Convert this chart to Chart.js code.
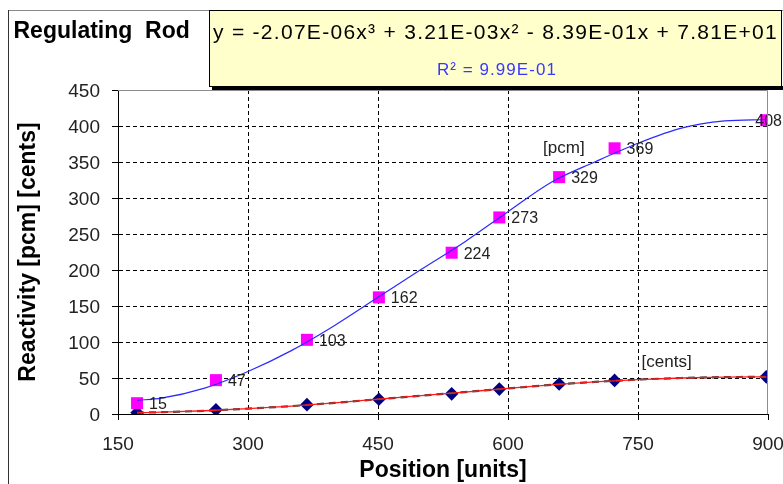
<!DOCTYPE html>
<html><head><meta charset="utf-8">
<script src="https://cdn.jsdelivr.net/npm/chart.js@4/dist/chart.umd.min.js"></script>
<style>html,body{margin:0;padding:0;background:#fff;overflow:hidden}#wrap{width:783px;height:484px;position:relative}</style>
</head><body><div id="wrap"><canvas id="c" width="783" height="484" style="width:783px;height:484px"></canvas></div>
<script>
// ---- data ----
const positions   = [172, 263, 368, 451, 535, 590, 659, 723, 898];
const pcmValues   = [15, 47, 103, 162, 224, 273, 329, 369, 408];
const centsValues = [1.9, 5.9, 13, 20.5, 28, 34.6, 41.6, 46.7, 51.6];
const trendPositions = [172, 200, 250, 300, 350, 400, 450, 500, 550, 600, 650, 700, 750, 800, 850, 898];
const pcmTrend   = [19, 22, 36, 59, 88, 123, 162, 201, 239, 281, 322, 350, 376, 397, 407, 409];
const centsTrend = [1.8, 2.5, 4.5, 7.5, 11, 15.5, 20.5, 25.5, 30.5, 35.5, 40.5, 44.5, 47.8, 50, 51.2, 51.6];
const xTicks = [150, 300, 450, 600, 750, 900];
const yTicks = [0, 50, 100, 150, 200, 250, 300, 350, 400, 450];
const chartTitle = 'Regulating  Rod';
const equationText = 'y = -2.07E-06x\u00B3 + 3.21E-03x\u00B2 - 8.39E-01x + 7.81E+01';
const r2Text = 'R\u00B2 = 9.99E-01';
const xTitle = 'Position [units]';
const yTitle = 'Reactivity [pcm] [cents]';
const seriesNames = ['[pcm]', '[cents]'];

const FONT = "'Liberation Sans', Arial, sans-serif";
const pts = (xs, ys) => xs.map((x, i) => ({x, y: ys[i]}));

function fitText(ctx, text, cx, y, target) {
  ctx.letterSpacing = '0px';
  const w0 = ctx.measureText(text).width;
  if (w0 < target && 'letterSpacing' in ctx) {
    ctx.letterSpacing = ((target - w0) / text.length).toFixed(2) + 'px';
  }
  ctx.fillText(text, cx, y, target + 4);
  ctx.letterSpacing = '0px';
}

const decor = {
  id: 'decor',
  afterDatasetsDraw(chart) {
    const ctx = chart.ctx;
    const pcmMeta = chart.getDatasetMeta(3);
    const centsMeta = chart.getDatasetMeta(4);
    ctx.save();
    ctx.font = '16px ' + FONT;
    ctx.fillStyle = '#222';
    ctx.textBaseline = 'middle';
    ctx.textAlign = 'left';
    pcmMeta.data.forEach((p, i) => {
      const t = String(pcmValues[i]);
      const w = ctx.measureText(t).width;
      const x = Math.min(p.x + 12, 782 - w);
      ctx.fillText(t, x, p.y + 1.5);
    });
    ctx.font = '17px ' + FONT;
    const p8 = pcmMeta.data[7];
    ctx.textAlign = 'right';
    ctx.fillText(seriesNames[0], p8.x - 30, p8.y);
    const c8 = centsMeta.data[7];
    ctx.textAlign = 'left';
    ctx.fillText(seriesNames[1], c8.x + 27, c8.y - 18);
    ctx.restore();
  },
  afterDraw(chart) {
    const ctx = chart.ctx;
    const a = chart.chartArea;
    ctx.save();
    // plot area border (top/right)
    ctx.strokeStyle = '#8c8c8c';
    ctx.lineWidth = 1;
    ctx.beginPath();
    ctx.moveTo(a.left, a.top + 0.5); ctx.lineTo(a.right - 0.5, a.top + 0.5); ctx.lineTo(a.right - 0.5, a.bottom);
    ctx.stroke();
    // outer frame
    ctx.strokeStyle = '#888';
    ctx.beginPath(); ctx.moveTo(9, 10.5); ctx.lineTo(783, 10.5); ctx.stroke();
    ctx.strokeStyle = '#333';
    ctx.beginPath(); ctx.moveTo(8.5, 10); ctx.lineTo(8.5, 484); ctx.stroke();
    // title
    ctx.fillStyle = '#000';
    ctx.font = 'bold 23px ' + FONT;
    ctx.textBaseline = 'alphabetic';
    ctx.textAlign = 'left';
    ctx.fillText(chartTitle, 13.5, 38);
    // equation box
    ctx.fillStyle = '#000';
    ctx.fillRect(212, 86, 572, 4);
    ctx.fillStyle = '#FFFFCC';
    ctx.fillRect(209.5, 10.5, 572, 76);
    ctx.strokeStyle = '#000';
    ctx.strokeRect(209.5, 10.5, 572, 76);
    ctx.fillStyle = '#000';
    ctx.font = '21px ' + FONT;
    ctx.textAlign = 'center';
    fitText(ctx, equationText, 495.5, 39, 565);
    ctx.fillStyle = '#3838ff';
    ctx.font = '17px ' + FONT;
    fitText(ctx, r2Text, 497, 75, 120);
    ctx.restore();
  }
};

const gridColorX = c => (c.tick && c.tick.value === xTicks[xTicks.length - 1]) ? 'rgba(0,0,0,0)' : '#000';
const gridColorY = c => (c.tick && c.tick.value === yTicks[yTicks.length - 1]) ? 'rgba(0,0,0,0)' : '#000';

new Chart(document.getElementById('c'), {
  type: 'scatter',
  data: {
    datasets: [
      { label: 'pcm trend', data: pts(trendPositions, pcmTrend), showLine: true, borderColor: '#2a2aff', borderWidth: 1.2, pointRadius: 0, cubicInterpolationMode: 'monotone', fill: false },
      { label: 'cents trend', data: pts(trendPositions, centsTrend), showLine: true, borderColor: '#ff1a1a', borderWidth: 1.3, pointRadius: 0, cubicInterpolationMode: 'monotone', fill: false },
      { label: 'cents line', data: pts(trendPositions, centsTrend), showLine: true, borderColor: '#404040', borderWidth: 2.2, borderDash: [7, 5], pointRadius: 0, cubicInterpolationMode: 'monotone', fill: false },
      { label: '[pcm]', data: pts(positions, pcmValues), showLine: false, pointStyle: 'rect', pointRadius: 8.5, pointBackgroundColor: '#ff00ff', pointBorderWidth: 0, pointBorderColor: '#ff00ff' },
      { label: '[cents]', data: pts(positions, centsValues), showLine: false, pointStyle: 'rectRot', pointRadius: 6.8, pointBackgroundColor: '#000080', pointBorderWidth: 0, pointBorderColor: '#000080' }
    ]
  },
  options: {
    responsive: false,
    devicePixelRatio: 1,
    animation: false,
    events: [],
    layout: { padding: { left: 0, top: 90, right: 15, bottom: 0 } },
    plugins: { legend: { display: false }, tooltip: { enabled: false }, title: { display: false } },
    scales: {
      x: {
        type: 'linear', min: xTicks[0], max: xTicks[xTicks.length - 1],
        afterBuildTicks: s => { s.ticks = xTicks.map(v => ({ value: v })); },
        afterFit: s => { s.height = 70; s.paddingLeft = 0; s.paddingRight = 0; },
        ticks: { font: { family: FONT, size: 19 }, color: '#222', padding: 13, maxRotation: 0 },
        grid: { color: gridColorX, lineWidth: 1, tickLength: 6, tickColor: '#000', tickBorderDash: [], tickWidth: 1 },
        border: { display: true, color: '#000', width: 1, dash: [4, 3] },
        title: { display: true, text: xTitle, font: { family: FONT, size: 23, weight: 'bold' }, color: '#000', padding: { top: 0, bottom: 0 } }
      },
      y: {
        type: 'linear', min: yTicks[0], max: yTicks[yTicks.length - 1],
        afterBuildTicks: s => { s.ticks = yTicks.map(v => ({ value: v })); },
        afterFit: s => { s.width = 118; s.paddingTop = 0; s.paddingBottom = 0; },
        ticks: { font: { family: FONT, size: 19 }, color: '#222', padding: 12, labelOffset: 2 },
        grid: { color: gridColorY, lineWidth: 1, tickLength: 6, tickColor: '#000', tickBorderDash: [], tickWidth: 1 },
        border: { display: true, color: '#000', width: 1, dash: [4, 3] },
        title: { display: true, text: yTitle, font: { family: FONT, size: 23, weight: 'bold' }, color: '#000', padding: { top: 15, bottom: 0 } }
      }
    }
  },
  plugins: [decor]
});
</script>
</body></html>
